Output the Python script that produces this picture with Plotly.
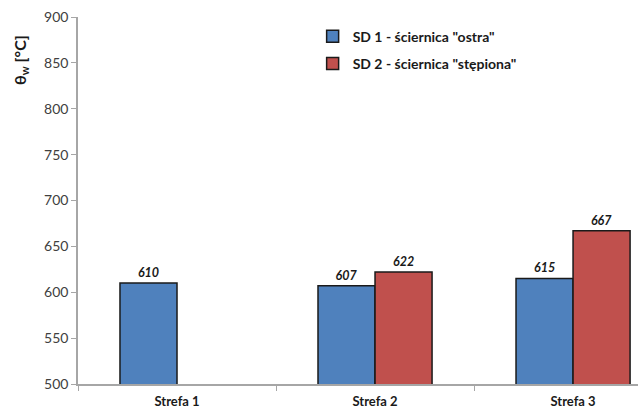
import plotly.graph_objects as go

# Zone temperatures for the two grinding wheels
categories = ["Strefa 1", "Strefa 2", "Strefa 3"]
sd1_values = [610, 607, 615]
sd2_values = [None, 622, 667]
series_names = ['SD 1 - ściernica "ostra"', 'SD 2 - ściernica "stępiona"']
y_ticks = [500, 550, 600, 650, 700, 750, 800, 850, 900]

blue = "#4F81BD"
red = "#C0504D"
font_family = "Lato, 'Open Sans', sans-serif"
label_font = dict(family=font_family, size=12.5, color="#1a1a1a")

fig = go.Figure()
for i, (name, vals, col) in enumerate([(series_names[0], sd1_values, blue),
                                       (series_names[1], sd2_values, red)]):
    fig.add_trace(go.Bar(
        name=name,
        legendgroup="g%d" % i,
        x=categories,
        y=vals,
        marker=dict(color=col, line=dict(color="#1a1a1a", width=1.5)),
        text=[("<b><i>%d</i></b>" % v) if v is not None else "" for v in vals],
        textposition="outside",
        textfont=label_font,
        cliponaxis=False,
    ))

fig.update_layout(
    width=638, height=410,
    margin=dict(l=78, r=0, t=17, b=26),
    paper_bgcolor="white", plot_bgcolor="white",
    barmode="group",
    bargap=0.424, bargroupgap=0,
    font=dict(family=font_family, color="#404040"),
    legend=dict(
        x=0.419, y=0.99, xanchor="left", yanchor="top",
        font=dict(family=font_family, size=14, color="#1a1a1a", weight="bold"),
        bgcolor="rgba(0,0,0,0)", itemwidth=30,
        traceorder="grouped", tracegroupgap=6,
    ),
    showlegend=True,
)

fig.update_xaxes(
    range=[-0.5, 2.328],
    showline=True, linecolor="#A6A6A6", linewidth=1.5,
    ticks="outside", tickson="boundaries", ticklen=5, tickcolor="#A6A6A6",
    tickfont=dict(size=13, color="#1a1a1a", weight="bold"),
    ticklabelstandoff=5,
    showgrid=False,
)
fig.update_yaxes(
    range=[500, 900], tickvals=y_ticks,
    showline=True, linecolor="#A6A6A6", linewidth=1.5,
    ticks="outside", ticklen=5, tickcolor="#A6A6A6",
    tickfont=dict(size=14, color="#404040"),
    showgrid=False, zeroline=False,
)

fig.add_annotation(
    text="<b>θ<sub>w</sub> [°C]</b>",
    xref="paper", yref="paper", x=-0.125, y=0.955,
    textangle=-90, showarrow=False,
    font=dict(family=font_family, size=16, color="#1a1a1a"),
)

fig.write_html("out.html")
